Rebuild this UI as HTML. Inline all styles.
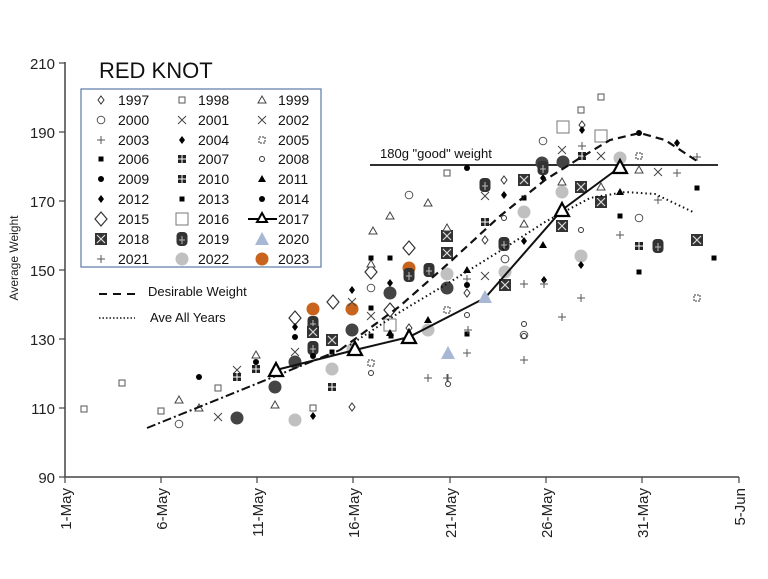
<!DOCTYPE html>
<html><head><meta charset="utf-8"><style>
html,body{margin:0;padding:0;background:#fff}
svg{display:block;font-family:"Liberation Sans",sans-serif}
</style></head><body>
<svg width="768" height="579" viewBox="0 0 768 579" xmlns="http://www.w3.org/2000/svg">
<defs>
<g id="od"><path d="M0,-4L3,0L0,4L-3,0Z" fill="#fff" stroke="#333" stroke-width="1"/></g>
<g id="bd"><path d="M0,-7L6,0L0,7L-6,0Z" fill="#fff" stroke="#333" stroke-width="1.2"/></g>
<g id="os"><rect x="-3" y="-3" width="6" height="6" fill="#fff" stroke="#555" stroke-width="1"/></g>
<g id="bs"><rect x="-6" y="-6" width="12" height="12" fill="#fff" stroke="#777" stroke-width="1"/></g>
<g id="ot"><path d="M0,-4L4,3L-4,3Z" fill="#fff" stroke="#444" stroke-width="1"/></g>
<g id="oc"><circle r="3.8" fill="#fff" stroke="#555" stroke-width="1"/></g>
<g id="xx"><path d="M-4,-4L4,4M4,-4L-4,4" stroke="#444" stroke-width="1"/></g>
<g id="pl"><path d="M-4,0H4M0,-4V4" stroke="#555" stroke-width="1"/></g>
<g id="fd"><path d="M0,-4L3,0L0,4L-3,0Z" fill="#000"/></g>
<g id="fs"><rect x="-2.5" y="-2.5" width="5" height="5" fill="#000"/></g>
<g id="fc"><circle r="3" fill="#000"/></g>
<g id="sc"><circle r="2.5" fill="#fff" stroke="#333"/></g>
<g id="g5"><rect x="-3" y="-3" width="6" height="6" fill="#fff" stroke="#333" stroke-dasharray="2,1"/></g>
<g id="ft"><path d="M0,-4L4,3L-4,3Z" fill="#000"/></g>
<g id="dc"><circle r="6.5" fill="#444"/></g>
<g id="gc"><circle r="6.5" fill="#c0c0c0"/></g>
<g id="or"><circle r="6.5" fill="#c8641e"/></g>
<g id="qx"><rect x="-6" y="-6" width="12" height="12" fill="#333"/><path d="M-4,-4L4,4M4,-4L-4,4" stroke="#ddd" stroke-width="1.2"/></g>
<g id="q9"><rect x="-5.5" y="-7" width="11" height="14" rx="4" fill="#333"/><path d="M0,-3V5M-3,1H3" stroke="#bbb"/></g>
<g id="g10"><rect x="-4" y="-4" width="8" height="8" fill="#222"/><path d="M0,-4V4M-4,0H4" stroke="#fff"/></g>
<g id="bt"><path d="M0,-7L7,6L-7,6Z" fill="#a7b7d4"/></g>
<g id="t17"><path d="M0,-7L7,6L-7,6Z" fill="#fff" stroke="#000" stroke-width="2.2"/></g>
</defs>

<!-- axes -->
<line x1="65" y1="62" x2="65" y2="477" stroke="#444" stroke-width="1.5"/>
<line x1="65" y1="477" x2="739" y2="477" stroke="#444" stroke-width="1.5"/>
<g stroke="#444" stroke-width="1.2">
<line x1="59" y1="63" x2="65" y2="63"/><line x1="59" y1="132" x2="65" y2="132"/><line x1="59" y1="201" x2="65" y2="201"/><line x1="59" y1="270" x2="65" y2="270"/><line x1="59" y1="339" x2="65" y2="339"/><line x1="59" y1="408" x2="65" y2="408"/><line x1="59" y1="477" x2="65" y2="477"/>
<line x1="65" y1="477" x2="65" y2="483"/><line x1="161" y1="477" x2="161" y2="483"/><line x1="257" y1="477" x2="257" y2="483"/><line x1="353" y1="477" x2="353" y2="483"/><line x1="450" y1="477" x2="450" y2="483"/><line x1="546" y1="477" x2="546" y2="483"/><line x1="642" y1="477" x2="642" y2="483"/><line x1="739" y1="477" x2="739" y2="483"/>
</g>
<g font-size="15" fill="#222" text-anchor="end">
<text x="55" y="69">210</text><text x="55" y="138">190</text><text x="55" y="207">170</text><text x="55" y="276">150</text><text x="55" y="345">130</text><text x="55" y="414">110</text><text x="55" y="483">90</text>
</g>
<g font-size="15" fill="#222" text-anchor="end">
<text transform="translate(71,488) rotate(-90)">1-May</text>
<text transform="translate(167,488) rotate(-90)">6-May</text>
<text transform="translate(263,488) rotate(-90)">11-May</text>
<text transform="translate(359,488) rotate(-90)">16-May</text>
<text transform="translate(456,488) rotate(-90)">21-May</text>
<text transform="translate(552,488) rotate(-90)">26-May</text>
<text transform="translate(648,488) rotate(-90)">31-May</text>
<text transform="translate(745,488) rotate(-90)">5-Jun</text>
</g>
<text transform="translate(18,258) rotate(-90)" font-size="12" fill="#222" text-anchor="middle">Average Weight</text>

<!-- title and legend -->
<text x="99" y="78" font-size="22" fill="#111">RED KNOT</text>
<rect x="81" y="89" width="240" height="178" fill="#fff" stroke="#5a7aa6" stroke-width="1.2"/>
<g font-size="14" fill="#111">
<text x="118" y="105">1997</text><text x="198" y="105">1998</text><text x="278" y="105">1999</text>
<text x="118" y="125">2000</text><text x="198" y="125">2001</text><text x="278" y="125">2002</text>
<text x="118" y="145">2003</text><text x="198" y="145">2004</text><text x="278" y="145">2005</text>
<text x="118" y="164">2006</text><text x="198" y="164">2007</text><text x="278" y="164">2008</text>
<text x="118" y="184">2009</text><text x="198" y="184">2010</text><text x="278" y="184">2011</text>
<text x="118" y="204">2012</text><text x="198" y="204">2013</text><text x="278" y="204">2014</text>
<text x="118" y="224">2015</text><text x="198" y="224">2016</text><text x="278" y="224">2017</text>
<text x="118" y="244">2018</text><text x="198" y="244">2019</text><text x="278" y="244">2020</text>
<text x="118" y="264">2021</text><text x="198" y="264">2022</text><text x="278" y="264">2023</text>
</g>
<use href="#od" x="101" y="100"/><use href="#os" x="182" y="100"/><use href="#ot" x="262" y="100"/>
<use href="#oc" x="101" y="120"/><use href="#xx" x="182" y="120"/><use href="#xx" x="262" y="120"/>
<use href="#pl" x="101" y="140"/><use href="#fd" x="182" y="140"/><use href="#g5" x="262" y="140"/>
<use href="#fs" x="101" y="159"/><use href="#g10" x="182" y="159"/><use href="#sc" x="262" y="159"/>
<use href="#fc" x="101" y="179"/><use href="#g10" x="182" y="179"/><use href="#ft" x="262" y="179"/>
<use href="#fd" x="101" y="199"/><use href="#fs" x="182" y="199"/><use href="#fc" x="262" y="199"/>
<use href="#bd" x="101" y="219"/><use href="#bs" x="182" y="219"/>
<line x1="248" y1="219" x2="277" y2="219" stroke="#000" stroke-width="2"/><path d="M262,213L267,222L257,222Z" fill="#fff" stroke="#000" stroke-width="2"/>
<use href="#qx" x="101" y="239"/><use href="#q9" x="182" y="239"/><use href="#bt" x="262" y="239"/>
<use href="#pl" x="101" y="259"/><use href="#gc" x="182" y="259"/><use href="#or" x="262" y="259"/>

<line x1="99" y1="294" x2="138" y2="294" stroke="#111" stroke-width="2" stroke-dasharray="8,6"/>
<text x="148" y="296" font-size="13" fill="#111">Desirable Weight</text>
<line x1="99" y1="318" x2="135" y2="318" stroke="#111" stroke-width="1.5" stroke-dasharray="1.5,2"/>
<text x="150" y="322" font-size="13" fill="#111">Ave All Years</text>

<!-- 180 line -->
<line x1="370" y1="165" x2="718" y2="165" stroke="#111" stroke-width="1.8"/>
<text x="380" y="158" font-size="13" fill="#111">180g "good" weight</text>

<!-- markers -->
<g>
<use href="#os" x="84" y="409"/><use href="#os" x="122" y="383"/><use href="#os" x="161" y="411"/><use href="#oc" x="179" y="424"/><use href="#ot" x="179" y="400"/><use href="#ot" x="199" y="408"/><use href="#fc" x="199" y="377"/><use href="#os" x="218" y="388"/><use href="#xx" x="218" y="417"/><use href="#dc" x="237" y="418"/>
<use href="#xx" x="237" y="370"/><use href="#g10" x="237" y="377"/><use href="#ot" x="256" y="355"/><use href="#fc" x="256" y="362"/><use href="#g10" x="256" y="369"/>
<use href="#dc" x="275" y="387"/><use href="#ot" x="275" y="405"/><use href="#gc" x="295" y="420"/><use href="#os" x="313" y="408"/><use href="#fd" x="313" y="416"/><use href="#od" x="352" y="407"/>
<use href="#bd" x="295" y="318"/><use href="#fd" x="295" y="327"/><use href="#fc" x="295" y="337"/><use href="#dc" x="295" y="362"/><use href="#xx" x="295" y="352"/>
<use href="#or" x="313" y="309"/><use href="#q9" x="313" y="323"/><use href="#qx" x="313" y="332"/><use href="#q9" x="313" y="348"/><use href="#fc" x="313" y="356"/><use href="#qx" x="332" y="340"/><use href="#fs" x="332" y="352"/><use href="#gc" x="332" y="369"/><use href="#g10" x="332" y="387"/>
<use href="#bd" x="333" y="302"/><use href="#or" x="352" y="309"/><use href="#xx" x="352" y="302"/><use href="#dc" x="352" y="330"/><use href="#gc" x="353" y="349"/><use href="#fd" x="352" y="290"/>
<use href="#fs" x="371" y="308"/><use href="#xx" x="371" y="316"/><use href="#oc" x="371" y="288"/><use href="#bd" x="371" y="272"/><use href="#ot" x="371" y="264"/><use href="#fs" x="371" y="258"/><use href="#fs" x="390" y="258"/><use href="#dc" x="390" y="293"/><use href="#fd" x="390" y="283"/><use href="#fs" x="371" y="336"/>
<use href="#fs" x="391" y="336"/><use href="#bd" x="390" y="310"/><use href="#bs" x="390" y="325"/><use href="#ft" x="390" y="333"/><use href="#g5" x="371" y="363"/><use href="#sc" x="371" y="373"/>
<use href="#or" x="409" y="268"/><use href="#bd" x="409" y="248"/><use href="#q9" x="409" y="275"/><use href="#q9" x="429" y="270"/><use href="#qx" x="447" y="236"/><use href="#qx" x="447" y="253"/><use href="#ot" x="447" y="228"/>
<use href="#oc" x="409" y="195"/><use href="#ot" x="428" y="203"/><use href="#ot" x="390" y="216"/><use href="#ot" x="373" y="231"/><use href="#os" x="447" y="173"/><use href="#fc" x="467" y="168"/><use href="#q9" x="485" y="185"/>
<use href="#od" x="504" y="180"/><use href="#fd" x="504" y="195"/><use href="#g10" x="485" y="222"/><use href="#od" x="485" y="240"/><use href="#xx" x="485" y="276"/><use href="#dc" x="447" y="288"/><use href="#gc" x="447" y="274"/><use href="#ft" x="467" y="270"/><use href="#pl" x="467" y="279"/><use href="#fc" x="467" y="285"/><use href="#od" x="467" y="293"/><use href="#g5" x="447" y="310"/><use href="#sc" x="467" y="315"/><use href="#fs" x="467" y="334"/><use href="#bt" x="448" y="353"/><use href="#pl" x="467" y="353"/><use href="#pl" x="448" y="378"/><use href="#sc" x="448" y="384"/>
<use href="#od" x="409" y="328"/><use href="#od" x="428" y="328"/><use href="#os" x="428" y="332"/><use href="#pl" x="468" y="330"/><use href="#pl" x="428" y="378"/><use href="#pl" x="447" y="378"/><use href="#gc" x="428" y="330"/><use href="#ft" x="428" y="320"/>
<use href="#xx" x="485" y="196"/><use href="#oc" x="505" y="259"/><use href="#fd" x="524" y="241"/><use href="#ot" x="524" y="224"/><use href="#gc" x="524" y="212"/><use href="#sc" x="504" y="218"/><use href="#q9" x="504" y="244"/><use href="#qx" x="505" y="285"/><use href="#fd" x="544" y="280"/><use href="#pl" x="544" y="284"/><use href="#oc" x="524" y="335"/><use href="#pl" x="524" y="360"/><use href="#sc" x="524" y="324"/>
<use href="#fs" x="524" y="198"/><use href="#qx" x="524" y="180"/><use href="#fd" x="543" y="178"/><use href="#qx" x="524" y="180"/><use href="#oc" x="543" y="141"/><use href="#dc" x="542" y="163"/><use href="#dc" x="563" y="162"/><use href="#q9" x="543" y="168"/><use href="#xx" x="562" y="150"/><use href="#bs" x="563" y="127"/><use href="#os" x="581" y="110"/><use href="#os" x="601" y="97"/><use href="#od" x="582" y="125"/><use href="#fd" x="582" y="130"/><use href="#pl" x="582" y="146"/><use href="#g10" x="582" y="156"/><use href="#bs" x="601" y="136"/><use href="#xx" x="601" y="156"/><use href="#gc" x="620" y="158"/><use href="#g5" x="639" y="156"/><use href="#fc" x="639" y="133"/><use href="#fd" x="677" y="143"/><use href="#pl" x="697" y="157"/>
<use href="#ot" x="562" y="182"/><use href="#gc" x="562" y="192"/><use href="#qx" x="581" y="187"/><use href="#ot" x="601" y="187"/><use href="#qx" x="601" y="202"/><use href="#ot" x="639" y="170"/><use href="#xx" x="658" y="172"/><use href="#pl" x="677" y="173"/><use href="#fs" x="697" y="188"/><use href="#ft" x="620" y="192"/><use href="#pl" x="658" y="200"/>
<use href="#qx" x="562" y="226"/><use href="#fs" x="620" y="216"/><use href="#oc" x="639" y="218"/><use href="#pl" x="620" y="235"/><use href="#sc" x="581" y="230"/><use href="#g10" x="639" y="246"/><use href="#q9" x="658" y="246"/><use href="#qx" x="697" y="240"/><use href="#fs" x="714" y="258"/><use href="#g5" x="697" y="298"/><use href="#fs" x="639" y="272"/><use href="#gc" x="581" y="256"/><use href="#fd" x="581" y="265"/><use href="#pl" x="581" y="298"/><use href="#pl" x="562" y="317"/><use href="#ft" x="543" y="245"/><use href="#oc" x="505" y="259"/><use href="#gc" x="505" y="272"/><use href="#pl" x="524" y="284"/><use href="#sc" x="524" y="336"/>
</g>

<!-- lines -->
<path d="M147,428 L340,350" fill="none" stroke="#111" stroke-width="2" stroke-dasharray="9,3,2,3"/>
<path d="M340,350 L400,306 L450,262 L500,216 L545,180 L580,158 L610,140 L640,133 L665,140 L700,163" fill="none" stroke="#111" stroke-width="2.2" stroke-dasharray="8,5"/>
<path d="M350,345 L400,312 L450,282 L500,251 L545,222 L590,198 L625,192 L655,194 L693,212" fill="none" stroke="#111" stroke-width="2" stroke-dasharray="1.5,3"/>
<path d="M276,370 L355,350 L409,337 L485,298 L562,210 L620,167" fill="none" stroke="#111" stroke-width="2"/>
<use href="#t17" x="276" y="370"/><use href="#t17" x="355" y="349"/><use href="#t17" x="409" y="337"/><use href="#bt" x="485" y="297"/><use href="#t17" x="562" y="210"/><use href="#t17" x="620" y="167"/>
</svg>
</body></html>
